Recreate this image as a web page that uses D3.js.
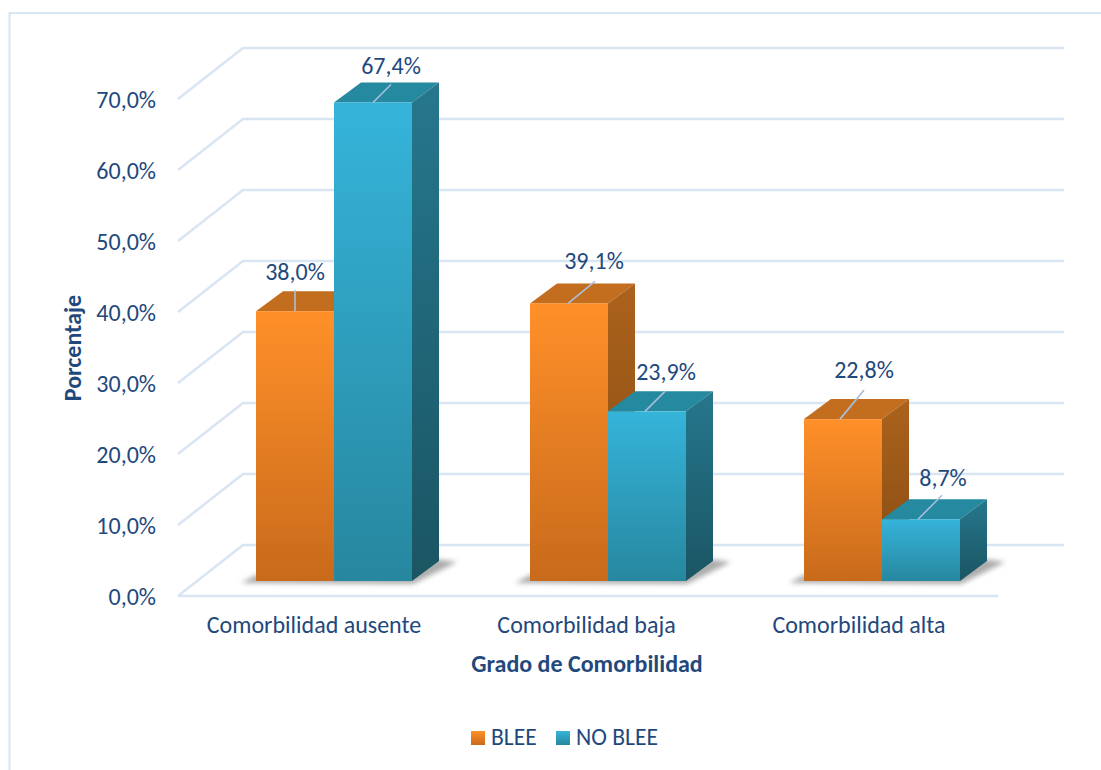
<!DOCTYPE html>
<html lang="es">
<head>
<meta charset="utf-8">
<title>Grado de Comorbilidad</title>
<script src="https://cdn.jsdelivr.net/npm/d3@7/dist/d3.min.js"></script>
<style>
  html, body { margin: 0; padding: 0; background: #fff; }
  svg { display: block; }
  text { font-family: Carlito, Lato, "Open Sans", sans-serif; fill: #1F497D; }
</style>
</head>
<body>
<svg id="chart" width="1101" height="770"></svg>
<script>
// Chart values
const categories = ["Comorbilidad ausente", "Comorbilidad baja", "Comorbilidad alta"];
const seriesNames = ["BLEE", "NO BLEE"];
const blee = [38.0, 39.1, 22.8];
const noBlee = [67.4, 23.9, 8.7];
const tickValues = [0, 10, 20, 30, 40, 50, 60, 70];

// Leader lines relative to the middle of each bar's front top edge: [start dx, end dx, end dy]
const leaders = [[[0, 0, -21], [0, 18, -18]], [[-1, 26, -22], [-2, 18, -20]], [[-3, 21, -29], [-3, 21, -24]]];
// Value label centre offset from the same point: [dx, baseline dy]
const labelShift = [[[0, -31], [18, -28]], [[25, -34], [19, -31]], [[21, -41], [22, -33]]];

const fmt = v => d3.format(".1f")(v).replace(".", ",") + "%";

const svg = d3.select("#chart");
const defs = svg.append("defs");

function vGradient(id, top, bottom) {
  const g = defs.append("linearGradient").attr("id", id)
    .attr("x1", 0).attr("y1", 0).attr("x2", 0).attr("y2", 1);
  g.append("stop").attr("offset", "0%").attr("stop-color", top);
  g.append("stop").attr("offset", "100%").attr("stop-color", bottom);
}
vGradient("front0", "#FF9029", "#C86A1B");
vGradient("front1", "#35B4DA", "#27879F");
vGradient("side0", "#AB621C", "#864B12");
vGradient("side1", "#26778D", "#1A5563");

defs.append("filter").attr("id", "soft")
  .attr("x", "-20%").attr("y", "-50%").attr("width", "140%").attr("height", "200%")
  .append("feGaussianBlur").attr("stdDeviation", 2.8);

const palette = {
  grid: "#DAE5F4",
  top: ["#C26E1E", "#25899F"],
  leader: "#A9BFDC"
};

// Page frame along the top and left edges
svg.append("path")
  .attr("d", "M9.5,770V13H1101")
  .attr("fill", "none").attr("stroke", "#D6E6F5").attr("stroke-width", 2);

// Geometry of the pseudo-3D box
const floorFront = { x0: 178, x1: 998, y: 596 };
const wallDepth = { dx: 65, dy: -51 };
const wallRight = 1064;
const barBase = 581;
const barWidth = 78;
const barDepth = { dx: 27, dy: -20 };
const gridWidth = 2.6;
const labelSize = 24;
const titleSize = 24;
const legendSize = 23.6;

const rise = d3.scaleLinear().domain([0, 70]).range([0, 497]);
const groupX = d3.scalePoint().domain(categories).range([256, 804]);
const labelX = d3.scalePoint().domain(categories).range([314, 859]);
const seriesX = d3.scalePoint().domain([0, 1]).range([0, barWidth]);

// Gridlines: the diagonal on the side wall, then across the back wall
svg.append("g").selectAll("path").data(tickValues).join("path")
  .attr("d", v => {
    const yF = floorFront.y - rise(v);
    const yB = yF + wallDepth.dy;
    const xB = floorFront.x0 + wallDepth.dx;
    return `M${floorFront.x0},${yF}L${xB},${yB}H${wallRight}`;
  })
  .attr("fill", "none").attr("stroke", palette.grid).attr("stroke-width", gridWidth);

svg.append("line")
  .attr("x1", floorFront.x0).attr("x2", floorFront.x1)
  .attr("y1", floorFront.y).attr("y2", floorFront.y)
  .attr("stroke", palette.grid).attr("stroke-width", gridWidth);

// Y axis labels
const yAxisScale = d3.scaleLinear().domain([0, 70])
  .range([floorFront.y, floorFront.y - rise(70)]);
const yAxis = svg.append("g").attr("transform", "translate(156,1)")
  .call(d3.axisLeft(yAxisScale).tickValues(tickValues).tickFormat(fmt).tickSize(0).tickPadding(0));
yAxis.select(".domain").remove();
yAxis.selectAll("text").attr("font-size", labelSize).attr("dy", "0.32em")
  .style("font-family", "Carlito, Lato, sans-serif").attr("fill", "#1F497D");

// Bars
const seriesValues = [blee, noBlee];
categories.forEach((cat, ci) => {
  const gx = groupX(cat);
  const right = gx + 2 * barWidth;
  const g = svg.append("g");

  // Ground shadow
  g.append("path")
    .attr("d", `M${gx - 15},${barBase + 2}L${right + 1},${barBase + 3}L${right + barDepth.dx + 18},${barBase + barDepth.dy + 1}L${right + barDepth.dx - 4},${barBase + barDepth.dy - 2}L${right},${barBase - 6}H${gx}Z`)
    .attr("fill", "#5a5a5a").attr("opacity", 0.5).attr("filter", "url(#soft)");

  seriesValues.forEach((vals, si) => {
    const v = vals[ci];
    const x = gx + seriesX(si);
    const yTop = barBase - rise(v);
    const xR = x + barWidth;
    // Top face
    g.append("path")
      .attr("d", `M${x},${yTop}L${x + barDepth.dx},${yTop + barDepth.dy}H${xR + barDepth.dx}L${xR},${yTop}Z`)
      .attr("fill", palette.top[si]);
    // Side face
    g.append("path")
      .attr("d", `M${xR},${yTop}L${xR + barDepth.dx},${yTop + barDepth.dy}V${barBase + barDepth.dy}L${xR},${barBase}Z`)
      .attr("fill", `url(#side${si})`);
    // Front face
    g.append("rect")
      .attr("x", x).attr("y", yTop).attr("width", barWidth).attr("height", rise(v))
      .attr("fill", `url(#front${si})`);
  });

  // Leader lines and value labels sit above every face of the group
  seriesValues.forEach((vals, si) => {
    const v = vals[ci];
    const cx = gx + seriesX(si) + barWidth / 2;
    const yTop = barBase - rise(v);
    const [sx, lx, ly] = leaders[ci][si];
    const [tx, ty] = labelShift[ci][si];
    g.append("line")
      .attr("x1", cx + sx).attr("y1", yTop).attr("x2", cx + lx).attr("y2", yTop + ly)
      .attr("stroke", palette.leader).attr("stroke-width", 1.6);
    g.append("text")
      .attr("x", cx + tx).attr("y", yTop + ty)
      .attr("text-anchor", "middle").attr("font-size", labelSize)
      .text(fmt(v));
  });
});

// Category labels
svg.append("g").selectAll("text").data(categories).join("text")
  .attr("x", d => labelX(d)).attr("y", 633)
  .attr("text-anchor", "middle").attr("font-size", labelSize)
  .text(d => d);

// Axis titles
svg.append("text")
  .attr("x", 587).attr("y", 672).attr("text-anchor", "middle")
  .attr("font-size", titleSize).attr("font-weight", 700)
  .text("Grado de Comorbilidad");

svg.append("text")
  .attr("transform", "translate(81,348) rotate(-90)")
  .attr("text-anchor", "middle")
  .attr("font-size", titleSize).attr("font-weight", 700)
  .text("Porcentaje");

// Legend
const legendX = [471, 556];
const legend = svg.append("g").selectAll("g").data(seriesNames).join("g")
  .attr("transform", (d, i) => `translate(${legendX[i]},731)`);
legend.append("rect").attr("width", 14).attr("height", 14)
  .attr("fill", (d, i) => `url(#front${i})`);
legend.append("text").attr("x", 20).attr("y", 14).attr("font-size", legendSize).text(d => d);
</script>
</body>
</html>
